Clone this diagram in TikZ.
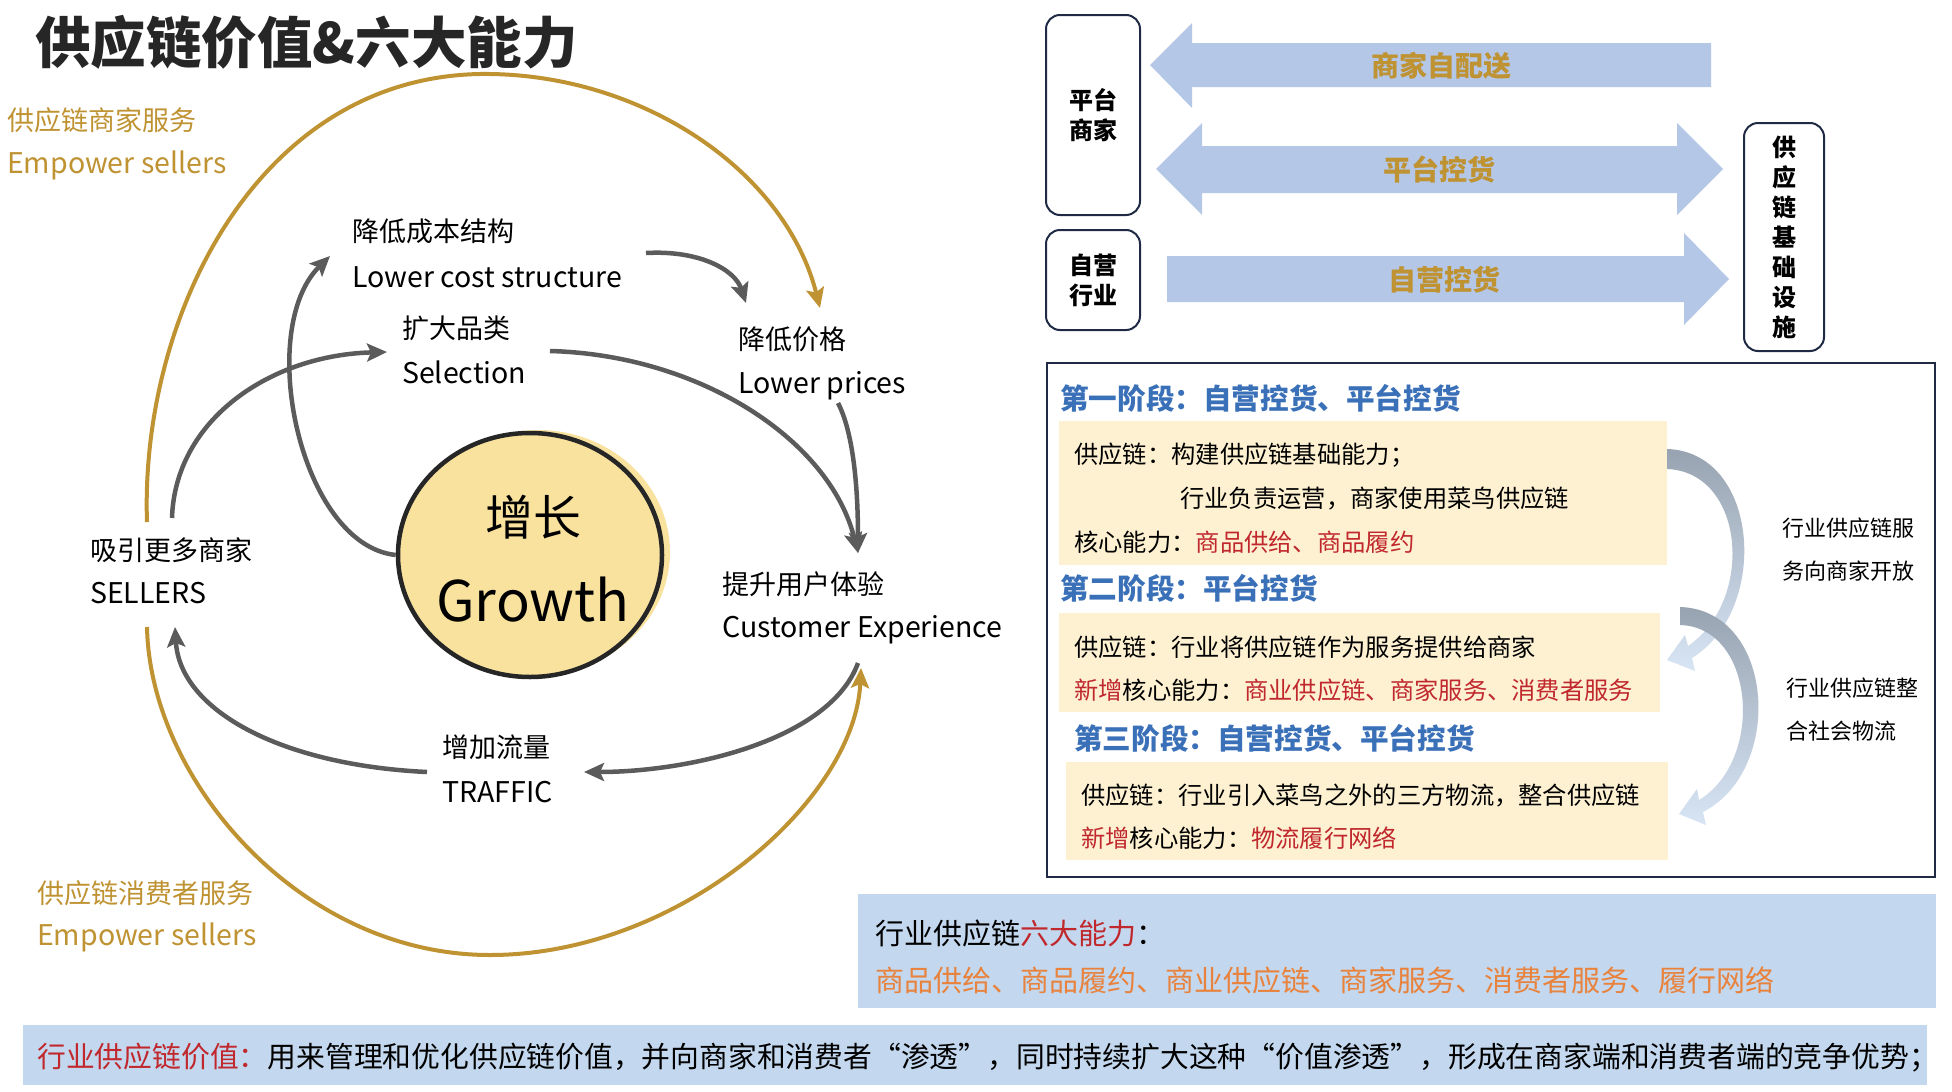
\documentclass[tikz,border=0pt]{standalone}
\usepackage{fontspec}
\newfontfamily\cjk{Noto Sans CJK SC}
\usetikzlibrary{arrows.meta,shapes.geometric,calc}
\definecolor{gold}{HTML}{BF9232}
\definecolor{arrgray}{HTML}{5B5B5B}
\definecolor{navy}{HTML}{1F2A44}
\definecolor{lblue}{HTML}{B4C7E7}
\definecolor{stageblue}{HTML}{3A70B8}
\definecolor{pyellow}{HTML}{FDF1D2}
\definecolor{dred}{HTML}{C0282D}
\definecolor{orng}{HTML}{E8823C}
\definecolor{boxblue}{HTML}{C3D8EE}
\definecolor{growthy}{HTML}{F8E29E}
\definecolor{titlec}{HTML}{262626}
\definecolor{ribtop}{HTML}{97A3B0}
\definecolor{ribbot}{HTML}{D8E5F5}
\begin{document}
\begin{tikzpicture}[x=1pt,y=-1pt,
  handcn/.style={font=\cjk\fontsize{27}{30}\selectfont, anchor=west, inner sep=0},
  handen/.style={font=\cjk\fontsize{28.5}{30}\selectfont, anchor=west, inner sep=0},
  goldcn/.style={handcn, text=gold},
  golden/.style={handen, text=gold},
  flow/.style={draw=arrgray, line width=4.5pt, -{Stealth[length=20pt,width=18pt,inset=4pt]}},
  goldflow/.style={draw=gold, line width=4pt, -{Stealth[length=20pt,width=18pt,inset=4pt]}},
  roundbox/.style={draw=navy, line width=2pt, rounded corners=14pt, align=center, font=\cjk\bfseries\fontsize{24}{30}\selectfont, inner sep=0},
  arrtext/.style={font=\cjk\bfseries\fontsize{28}{30}\selectfont, text=gold, inner sep=0},
  stagetitle/.style={font=\cjk\bfseries\fontsize{28.6}{30}\selectfont, text=stageblue, anchor=west, inner sep=0},
  body/.style={font=\cjk\fontsize{24.3}{28}\selectfont, anchor=west, inner sep=0},
  side/.style={font=\cjk\fontsize{22}{43}\selectfont, anchor=north west, align=left, inner sep=0},
  big/.style={font=\cjk\fontsize{29}{32}\selectfont, anchor=west, inner sep=0},
  ribbon/.style={top color=ribtop, middle color=ribtop!55!ribbot, bottom color=ribbot}
]
\useasboundingbox (0,0) rectangle (1952,1092);
\fill[white] (0,0) rectangle (1952,1092);

% Title
\node[font=\cjk\bfseries\fontsize{55.5}{60}\selectfont, text=titlec, anchor=west, inner sep=0] (title) at (35,42) {供应链价值\&六大能力};

% Gold labels
\node[goldcn] (gl1) at (7,120) {供应链商家服务};
\node[golden] (gl2) at (7,165) {Empower sellers};
\node[goldcn] (gl3) at (37,893) {供应链消费者服务};
\node[golden] (gl4) at (37,937) {Empower sellers};

% Growth
\fill[growthy] (538,552) ellipse [x radius=132pt, y radius=122pt];
\node[ellipse, draw=black!85, line width=4.5pt, fill=growthy, minimum width=264pt, minimum height=244pt, inner sep=0] (growth) at (530,555) {};
\node[font=\cjk\fontsize{48}{50}\selectfont, inner sep=0] (gcn) at (533,517) {增长};
\node[font=\cjk\fontsize{56}{60}\selectfont, inner sep=0] (gen) at (533,600) {Growth};

% Cycle labels
\node[handcn] (lcscn) at (352,231) {降低成本结构};
\node[handen] (lcsen) at (352,277) {Lower cost structure};
\node[handcn] (selcn) at (402,328) {扩大品类};
\node[handen] (selen) at (402,372) {Selection};
\node[handcn] (lpcn) at (738,339) {降低价格};
\node[handen] (lpen) at (738,386) {Lower prices};
\node[handcn] (slcn) at (90,550) {吸引更多商家};
\node[handen] (slen) at (90,593) {SELLERS};
\node[handcn] (cecn) at (722,584) {提升用户体验};
\node[handen] (ceen) at (722,630) {Customer Experience};
\node[handcn] (trcn) at (442,747) {增加流量};
\node[handen] (tren) at (442,792) {TRAFFIC};

% endpoints
\coordinate (lcsR) at (646,253);
\coordinate (lcsL) at (330,256);
\coordinate (lpT) at (746,303);
\coordinate (selR) at (550,351);
\coordinate (selL) at (387,352);
\coordinate (lpB) at (838,403);
\coordinate (ceT) at (858,553);
\coordinate (ceB) at (858,663);
\coordinate (trR) at (584,772);
\coordinate (trL) at (427,772);
\coordinate (slT) at (172,518);
\coordinate (slB) at (175,627);
\coordinate (goldA) at (147,522);
\coordinate (goldB) at (147,627);
\coordinate (goldTop) at (820,308);
\coordinate (goldBot) at (861,668);

% gold arcs
\draw[goldflow] (goldA) .. controls (140,320) and (255,78) .. (480,74) .. controls (640,72) and (785,170) .. (goldTop);
\draw[goldflow] (goldB) .. controls (150,780) and (300,955) .. (490,955) .. controls (680,955) and (855,800) .. (goldBot);

% gray flows
\draw[flow] (growth.west) .. controls (300,545) and (255,330) .. (lcsL);
\draw[flow] (lcsR) .. controls (700,250) and (735,270) .. (lpT);
\draw[flow] (selR) .. controls (700,355) and (830,440) .. (ceT);
\draw[flow] (lpB) .. controls (852,430) and (858,480) .. (ceT);
\draw[flow] (slT) .. controls (175,420) and (270,355) .. (selL);
\draw[flow] (ceB) .. controls (830,740) and (690,772) .. (trR);
\draw[flow] (trL) .. controls (280,765) and (180,710) .. (slB);

% Top right boxes
\node[roundbox, minimum width=94pt, minimum height=200pt] (pm) at (1093,115) {平台\\商家};
\node[roundbox, minimum width=94pt, minimum height=100pt] (so) at (1093,280) {自营\\行业};
\node[roundbox, minimum width=80pt, minimum height=228pt] (infra) at (1784,237) {供\\应\\链\\基\\础\\设\\施};

% Block arrows
\fill[lblue] (1711,43) -- (1192,43) -- (1192,23) -- (1150,65) -- (1192,108) -- (1192,87) -- (1711,87) -- cycle;
\fill[lblue] (1156,169) -- (1202,123) -- (1202,146) -- (1677,146) -- (1677,123) -- (1723,169) -- (1677,215) -- (1677,193) -- (1202,193) -- (1202,215) -- cycle;
\fill[lblue] (1167,256) -- (1684,256) -- (1684,233) -- (1729,279) -- (1684,325) -- (1684,302) -- (1167,302) -- cycle;
\node[arrtext] (a1t) at (1441,66) {商家自配送};
\node[arrtext] (a2t) at (1439,170) {平台控货};
\node[arrtext] (a3t) at (1444,280) {自营控货};

% Phase panel
\draw[navy, line width=2pt] (1047,363) rectangle (1935,877);
\node[stagetitle] (s1) at (1060,398) {第一阶段：自营控货、平台控货};
\fill[pyellow] (1059,421) rectangle (1667,565);
\node[body] (s1a) at (1074,455) {供应链：构建供应链基础能力；};
\node[body] (s1b) at (1180,498) {行业负责运营，商家使用菜鸟供应链};
\node[body] (s1c) at (1074,542) {核心能力：\textcolor{dred}{商品供给、商品履约}};
\node[stagetitle] (s2) at (1060,588) {第二阶段：平台控货};
\fill[pyellow] (1059,613) rectangle (1660,712);
\node[body] (s2a) at (1074,647) {供应链：行业将供应链作为服务提供给商家};
\node[body] (s2b) at (1074,690) {\textcolor{dred}{新增}核心能力：\textcolor{dred}{商业供应链、商家服务、消费者服务}};
\node[stagetitle] (s3) at (1074,738) {第三阶段：自营控货、平台控货};
\fill[pyellow] (1066,762) rectangle (1668,860);
\node[body] (s3a) at (1081,795) {供应链：行业引入菜鸟之外的三方物流，整合供应链};
\node[body] (s3b) at (1081,838) {\textcolor{dred}{新增}核心能力：\textcolor{dred}{物流履行网络}};

% ribbons
\shade[ribbon] (1667,449) .. controls (1760,452) and (1770,610) .. (1692,658) -- (1695,671) -- (1667,660) -- (1685,635) -- (1688,646) .. controls (1755,600) and (1745,472) .. (1667,469) -- cycle;
\shade[ribbon] (1680,607) .. controls (1775,610) and (1785,770) .. (1703,812) -- (1706,825) -- (1679,814) -- (1697,789) -- (1699,800) .. controls (1765,760) and (1755,627) .. (1680,625) -- cycle;
\node[side] (side1) at (1782,518) {行业供应链服\\务向商家开放};
\node[side] (side2) at (1786,678) {行业供应链整\\合社会物流};

% six abilities
\fill[boxblue] (858,894) rectangle (1936,1008);
\node[big] (six1) at (875,933) {行业供应链\textcolor{dred}{六大能力}：};
\node[big, text=orng] (six2) at (875,980) {商品供给、商品履约、商业供应链、商家服务、消费者服务、履行网络};

% value banner
\fill[boxblue] (23,1025) rectangle (1927,1085);
\node[font=\cjk\fontsize{28.8}{30}\selectfont, anchor=west, inner sep=0] (value) at (37,1058) {\textcolor{dred}{行业供应链价值：}用来管理和优化供应链价值，并向商家和消费者“渗透”，同时持续扩大这种“价值渗透”，形成在商家端和消费者端的竞争优势；};
\end{tikzpicture}
\end{document}
